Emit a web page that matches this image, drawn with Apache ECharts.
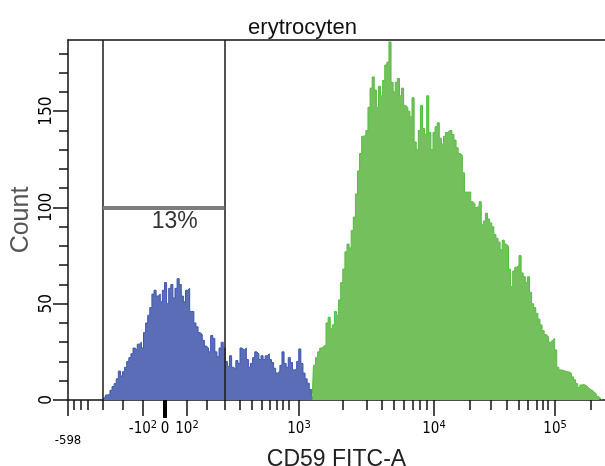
<!DOCTYPE html>
<html><head><meta charset="utf-8">
<script src="https://cdn.jsdelivr.net/npm/echarts@6/dist/echarts.min.js"></script>
<style>html,body{margin:0;padding:0;background:#fff}#c{width:605px;height:466px}</style>
</head><body><div id="c"></div>
<script>
// ---- data ----
const titleText = 'erytrocyten';
const xName = 'CD59 FITC-A';
const yName = 'Count';
const channelMax = 1024;          // display channels (logicle scale)
const binWidth = 4;               // channels per histogram bin
const blueStartBin = 16;
const blueCounts = [0.5,1,2.6,3,5,7,8.5,11,15,12.5,14.7,17,20,22,24,27,26,29,30,27,35,40,44,48,55,57,54,55,51,57,61,50,58,60,53,58,63,60,54,51,57,58,46,46,40,38,35,34,31,28,27,25,33.5,32,25,22.5,27,30,27,20,17.5,23,17,16,20.5,19,27,26,27,21,17,19,22,25,24,21,23,21,23,24,21,19.5,16.5,14,15,18,25,19,17,22,19.5,15.6,16,20,26.5,19,14,11,8.7,5.5,2,0];
const greenStartBin = 116;
const greenCounts = [3,18,22,25,27,28,28.5,40,43,37,39,46,44,52,61,68,77,81,79,88,95,107,119,128,137,137.5,140,152,162,167.8,161,152,163,158,166,174,175.5,186,165,160,165,167,158,162,153,152,150,147,157,134,130,140,153,141,138,158,139,130,139,142,144,136,133,137,139,140,140,138,135,131,128,127,118,108,108,108,103,102,100,101,103,91,93,97,94,92,90,86,84,82,78,83,81,80,68,59,67,69,70,75,66,64,61,64,56,50,48,45,42,39,36,34,33,30,31,32,26,17,15.6,15.5,15,14.7,14.5,13.9,12,10.5,8.5,6.5,7.8,8,7.5,6.5,5.5,5,4,3,1.8,0.8,0];
// logicle axis: display channel of each tick
const majorTickChannels = [0, 143.0, 185.0, 226.9, 440.5, 697.9, 928.7];
const labelChannels = [143.0, 185.0, 226.9, 440.5, 697.9, 928.7];
const labelBase = ['-10', '0', '10', '10', '10', '10'];
const labelExp = ['2', '', '2', '3', '4', '5'];
const minTickChannel = 0, minTickLabel = '-598';
const zeroChannel = 185.0;
const minorTickChannels = [11.4,24.8,38.1,66.7,104.9,265.1,299.4,328.0,350.9,369.9,385.2,398.5,410.0,421.4,524.4,570.2,598.8,621.6,640.7,657.9,671.2,684.6,766.6,806.6,837.1,860.0,877.2,894.4,905.8,915.3,997.3];
const yMax = 187;
const yMajorTicks = [0, 50, 100, 150];
const yMinorTicks = [10,20,30,40,60,70,80,90,110,120,130,140,160,170,180];
const gateLeft = 66.7, gateRight = 298.1, gateLevel = 100, gatePercent = '13%';

// ---- build ----
const toXY = (start, arr) => arr.map((v, i) => [(start + i) * binWidth + binWidth / 2, v]);
const narrow = "'Liberation Sans Narrow','DejaVu Sans Condensed',sans-serif";
const sans = "'Liberation Sans',Arial,sans-serif";
const ax = '#111';

function xLabel(v) {
  for (let i = 0; i < labelChannels.length; i++) {
    if (Math.abs(labelChannels[i] - v) < 0.01) {
      return '{n|' + labelBase[i] + '}' + (labelExp[i] ? '{s|' + labelExp[i] + '}' : '');
    }
  }
  return '';
}
const baseX = {type: 'value', min: 0, max: channelMax, position: 'bottom', splitLine: {show: false}};

const chart = echarts.init(document.getElementById('c'), null, {renderer: 'canvas'});
chart.setOption({
  animation: false,
  backgroundColor: '#fff',
  title: {text: titleText, left: 'center', top: 17, padding: 0,
    textStyle: {fontFamily: sans, fontSize: 22, fontWeight: 'normal', color: '#111'}},
  grid: {left: 68, top: 40, width: 537, height: 360, containLabel: false, outerBoundsMode: 'none'},
  xAxis: [
    Object.assign({}, baseX, {
      axisLine: {show: true, lineStyle: {color: ax, width: 1.5}},
      axisTick: {show: true, customValues: majorTickChannels, length: 16, lineStyle: {color: ax, width: 1.5}},
      axisLabel: {show: true, customValues: labelChannels, margin: 20, formatter: xLabel,
        rich: {n: {fontFamily: narrow, fontSize: 15, lineHeight: 18, color: '#000'},
               s: {fontFamily: narrow, fontSize: 11, lineHeight: 9, verticalAlign: 'top', color: '#000'}}},
      name: xName, nameLocation: 'middle', nameGap: 48, nameMoveOverlap: false,
      nameTextStyle: {fontFamily: sans, fontSize: 23, color: '#222'}
    }),
    Object.assign({}, baseX, {
      axisLine: {show: false},
      axisTick: {show: true, customValues: minorTickChannels, length: 10, lineStyle: {color: ax, width: 1.5}},
      axisLabel: {show: false}
    }),
    Object.assign({}, baseX, {
      axisLine: {show: false},
      axisTick: {show: true, customValues: [zeroChannel], length: 18, lineStyle: {color: '#000', width: 4}},
      axisLabel: {show: true, customValues: [minTickChannel], margin: 34, formatter: () => minTickLabel,
        fontFamily: narrow, fontSize: 13, color: '#000'}
    }),
    Object.assign({}, baseX, {
      position: 'top',
      axisLine: {show: true, lineStyle: {color: ax, width: 1.5}},
      axisTick: {show: false}, axisLabel: {show: false}
    })
  ],
  yAxis: [
    {type: 'value', min: 0, max: yMax, position: 'left', splitLine: {show: false},
      axisLine: {show: true, lineStyle: {color: ax, width: 1.5}},
      axisTick: {show: true, customValues: yMajorTicks, length: 15, lineStyle: {color: ax, width: 1.5}},
      axisLabel: {show: true, customValues: yMajorTicks, rotate: 90, margin: 13,
        fontFamily: narrow, fontSize: 17, color: '#000'},
      name: yName, nameLocation: 'middle', nameGap: 34, nameMoveOverlap: false,
      nameTextStyle: {fontFamily: sans, fontSize: 25, color: '#555'}
    },
    {type: 'value', min: 0, max: yMax, position: 'left', splitLine: {show: false},
      axisLine: {show: false},
      axisTick: {show: true, customValues: yMinorTicks, length: 9, lineStyle: {color: ax, width: 1.5}},
      axisLabel: {show: false}
    }
  ],
  series: [
    {type: 'line', name: 'blue', step: 'middle', showSymbol: false, symbol: 'none',
      data: toXY(blueStartBin, blueCounts),
      lineStyle: {color: '#3d56b0', width: 1}, areaStyle: {color: '#5a6db6', opacity: 1},
      z: 2},
    {type: 'line', name: 'green', step: 'middle', showSymbol: false, symbol: 'none',
      data: toXY(greenStartBin, greenCounts),
      lineStyle: {color: '#55bd42', width: 1}, areaStyle: {color: '#73c05c', opacity: 1},
      z: 3,
      markLine: {silent: true, symbol: 'none', label: {show: false}, animation: false,
        data: [
          {xAxis: gateLeft, lineStyle: {color: '#1a1a1a', width: 1.5, type: 'solid'}},
          {xAxis: gateRight, lineStyle: {color: '#1a1a1a', width: 1.5, type: 'solid'}},
          [{coord: [gateLeft, gateLevel], lineStyle: {color: '#7d7d7d', width: 4, type: 'solid'}},
           {coord: [gateRight, gateLevel]}]
        ]},
      markPoint: {silent: true, symbol: 'rect', symbolSize: 0,
        data: [{coord: [(gateLeft + gateRight) / 2, gateLevel],
          label: {show: true, formatter: gatePercent, offset: [11, 14],
            fontFamily: sans, fontSize: 23, color: '#333'}}]}
    }
  ]
});
</script></body></html>
